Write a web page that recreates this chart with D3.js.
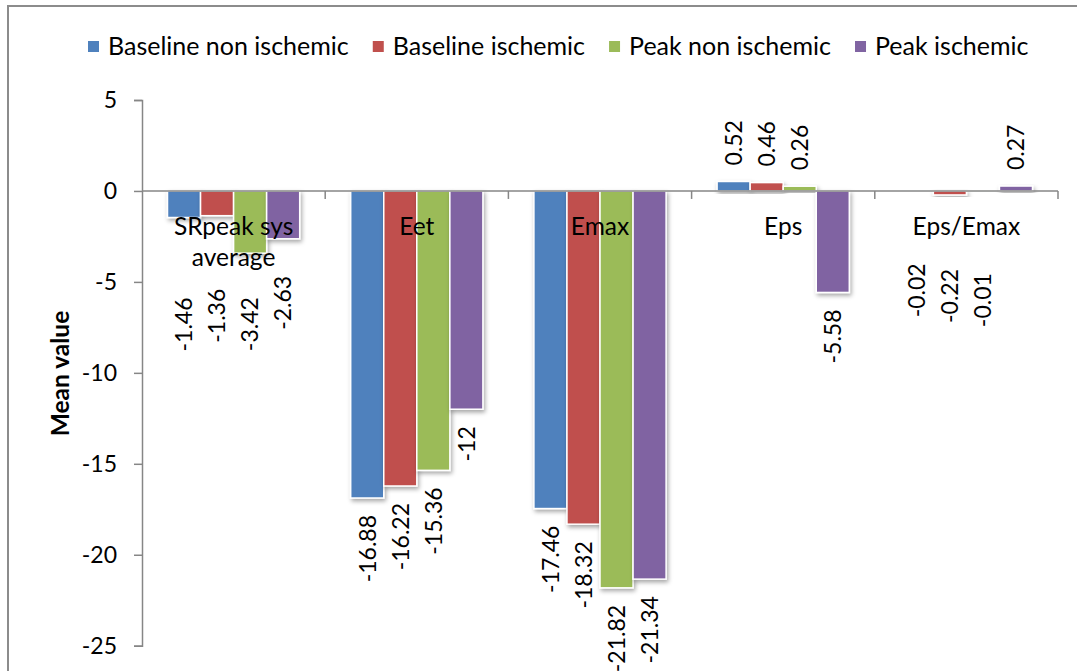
<!DOCTYPE html>
<html>
<head>
<meta charset="utf-8">
<script src="https://cdn.jsdelivr.net/npm/d3@7"></script>
<style>
  html, body { margin: 0; padding: 0; background: #fff; }
  svg { display: block; font-family: Lato, "Open Sans", sans-serif; }
</style>
</head>
<body>
<svg id="chart" width="1077" height="671"></svg>
<script>
// ---------------- data ----------------
const categories = ["SRpeak sys average", "Eet", "Emax", "Eps", "Eps/Emax"];
const seriesNames = ["Baseline non ischemic", "Baseline ischemic", "Peak non ischemic", "Peak ischemic"];
const baselineNonIschemic = [-1.46, -16.88, -17.46, 0.52, -0.02];
const baselineIschemic    = [-1.36, -16.22, -18.32, 0.46, -0.22];
const peakNonIschemic     = [-3.42, -15.36, -21.82, 0.26, -0.01];
const peakIschemic        = [-2.63, -12, -21.34, -5.58, 0.27];
const yTicks = [5, 0, -5, -10, -15, -20, -25];
const yTitle = "Mean value";

// ---------------- layout / style ----------------
const colors = ["#4F81BD", "#C0504D", "#9BBB59", "#8064A2"];
const seriesValues = [baselineNonIschemic, baselineIschemic, peakNonIschemic, peakIschemic];
// extra downward nudge (px) for labels that were moved by hand in the original
const labelNudge = [
  [63, 56, 27, 20],
  [0, 0, 0, 0],
  [0, 0, 0, 0],
  [0, 0, 0, 0],
  [55, 57, 65, 0]
];

const svg = d3.select("#chart");
const plot = { left: 142, right: 1058, top: 100, bottom: 645.7 };

// outer frame (only top and left edges visible)
svg.append("path")
  .attr("d", "M8,671 L8,6 L1077,6")
  .attr("fill", "none").attr("stroke", "#8c8c8c").attr("stroke-width", 2);

const defs = svg.append("defs");
const f = defs.append("filter").attr("id", "shadow")
  .attr("x", "-30%").attr("y", "-30%").attr("width", "160%").attr("height", "160%");
f.append("feDropShadow").attr("dx", 1.5).attr("dy", 2.5).attr("stdDeviation", 2.2)
  .attr("flood-color", "#000").attr("flood-opacity", 0.35);

const y = d3.scaleLinear().domain([-25, 5]).range([plot.bottom, plot.top]);
const x0 = d3.scaleBand().domain(categories).range([plot.left, plot.right]).padding(0);
const edge = 25.5;
const x1 = d3.scaleBand().domain(seriesNames).range([edge, x0.bandwidth() - edge]).padding(0);

// y axis
const yAxis = svg.append("g")
  .attr("transform", `translate(${plot.left},0)`)
  .call(d3.axisLeft(y).tickValues(yTicks).tickSize(8).tickPadding(17).tickFormat(d => String(d)));
yAxis.select(".domain").attr("stroke", "#868686").attr("stroke-width", 1.5);
yAxis.selectAll(".tick line").attr("stroke", "#868686").attr("stroke-width", 1.5);
yAxis.selectAll(".tick text").attr("font-size", 23).attr("fill", "#000")
  .attr("font-family", "Lato, sans-serif");

// bars
const data = [];
categories.forEach((c, ci) => {
  seriesNames.forEach((s, si) => {
    data.push({ c, ci, s, si, v: seriesValues[si][ci] });
  });
});

svg.append("g").selectAll("rect").data(data).enter().append("rect")
  .attr("x", d => x0(d.c) + x1(d.s))
  .attr("y", d => y(Math.max(0, d.v)))
  .attr("width", x1.bandwidth())
  .attr("height", d => Math.abs(y(d.v) - y(0)))
  .attr("fill", d => colors[d.si])
  .attr("stroke", "#fff").attr("stroke-width", 1.5)
  .attr("filter", "url(#shadow)");

// x axis at zero
const xAxisG = svg.append("g");
xAxisG.append("line")
  .attr("x1", plot.left).attr("x2", plot.right)
  .attr("y1", y(0)).attr("y2", y(0))
  .attr("stroke", "#868686").attr("stroke-width", 1.5);
const bounds = categories.map(c => x0(c)).concat([x0(categories[categories.length - 1]) + x0.bandwidth()]);
xAxisG.selectAll("line.tk").data(bounds.slice(1)).enter().append("line")
  .attr("class", "tk")
  .attr("x1", d => d).attr("x2", d => d)
  .attr("y1", y(0)).attr("y2", y(0) + 8)
  .attr("stroke", "#868686").attr("stroke-width", 1.5);

// category labels
const catG = svg.append("g");
const catLines = { "SRpeak sys average": ["SRpeak sys", "average"] };
categories.forEach(c => {
  const lines = catLines[c] || [c];
  const t = catG.append("text")
    .attr("x", x0(c) + x0.bandwidth() / 2)
    .attr("y", 235)
    .attr("text-anchor", "middle")
    .attr("font-size", 24.5).attr("fill", "#000");
  lines.forEach((ln, i) => {
    t.append("tspan").attr("x", x0(c) + x0.bandwidth() / 2).attr("dy", i === 0 ? 0 : 31).text(ln);
  });
});

// value labels
svg.append("g").selectAll("text").data(data).enter().append("text")
  .attr("transform", d => {
    const cx = x0(d.c) + x1(d.s) + x1.bandwidth() / 2;
    const yy = d.v < 0 ? y(d.v) + 17 + labelNudge[d.ci][d.si] : y(d.v) - 16;
    return `translate(${cx},${yy}) rotate(-90)`;
  })
  .attr("dy", "0.36em")
  .attr("text-anchor", d => d.v < 0 ? "end" : "start")
  .attr("font-size", 23).attr("fill", "#000")
  .text(d => String(d.v));

// y title
svg.append("text")
  .attr("transform", `translate(60,373.5) rotate(-90)`)
  .attr("dy", "0.36em")
  .attr("text-anchor", "middle")
  .attr("font-size", 24.5).attr("font-weight", "bold").attr("fill", "#000")
  .text(yTitle);

// legend
const leg = svg.append("g");
let lx = 88;
seriesNames.forEach((s, i) => {
  leg.append("rect").attr("x", lx).attr("y", 41).attr("width", 11).attr("height", 11).attr("fill", colors[i]);
  const t = leg.append("text").attr("x", lx + 20).attr("y", 55)
    .attr("font-size", 25).attr("fill", "#000").text(s);
  const w = t.node().getComputedTextLength();
  lx = lx + 20 + w + 24;
});
</script>
</body>
</html>
